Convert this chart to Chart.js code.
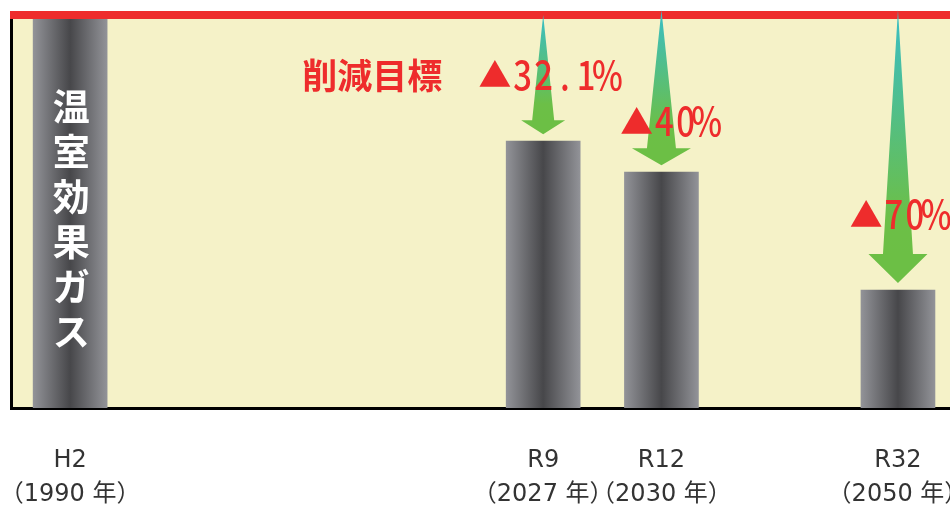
<!DOCTYPE html>
<html>
<head>
<meta charset="utf-8">
<title>温室効果ガス 削減目標</title>
<script src="https://cdn.jsdelivr.net/npm/chart.js@4.4.1/dist/chart.umd.min.js"></script>
<style>
  body { margin: 0; background: #fff; overflow: hidden; }
  #wrap { width: 950px; height: 505px; }
</style>
</head>
<body>
<div id="wrap"><canvas id="ghg"></canvas></div>

<script>
// 横軸は区分の番号（H2 と R9 の間は 3 区分あき）
var slots = [0, 4, 5, 7];
var eras = ['H2', 'R9', 'R12', 'R32'];
var years = ['（1990 年）', '（2027 年）', '（2030 年）', '（2050 年）'];
// 1990 年を 100 とした排出量
var emissions = [100, 67.9, 60, 30];
var cuts = ['', '▲32.1%', '▲40%', '▲70%'];

var RED = '#ee2c2c';
var CJK = "'Noto Sans CJK JP', sans-serif";

// 矢印の形と文字の置き場所（見た目だけ）
var arrowLook = [
  null,
  { shaft: 22, headW: 44, headH: 14, tip: 0 },
  { shaft: 29, headW: 59, headH: 17, tip: -5 },
  { shaft: 30, headW: 59, headH: 29, tip: -5 }
];
var cutSpot = [null, [4.04, 84.9], [5.06, 73.0], [7.0, 49.3]];

function barFill(c) {
  var chart = c.chart;
  if (!chart.chartArea || !c.raw) return '#6b6c70';
  var x = chart.scales.x.getPixelForValue(c.raw.x);
  var half = 37;
  var g = chart.ctx.createLinearGradient(x - half, 0, x + half, 0);
  g.addColorStop(0, '#929398');
  g.addColorStop(0.5, '#47474a');
  g.addColorStop(1, '#929398');
  return g;
}

// 半角は狭く、全角はそのままの幅で一字ずつ置く
function cellText(c, str, cx, cy, size) {
  var chars = Array.from(str);
  var w = chars.map(function (ch) { return ch.charCodeAt(0) > 0x2000 ? size * 0.85 : size * 0.53; });
  var total = w.reduce(function (a, b) { return a + b; }, 0);
  var x = cx - total / 2;
  chars.forEach(function (ch, k) {
    c.save();
    c.translate(x + w[k] / 2, cy);
    if (ch === '▲') c.scale(0.82, 0.82);
    else c.scale(0.82, 1);
    c.fillText(ch, 0, 0);
    c.restore();
    x += w[k];
  });
}

var decor = {
  id: 'decor',
  beforeDraw: function (chart) {
    var c = chart.ctx, a = chart.chartArea;
    c.save();
    c.fillStyle = '#fff';
    c.fillRect(0, 0, chart.width, chart.height);
    c.fillStyle = '#f5f2c8';
    c.fillRect(a.left, a.top, a.right - a.left, a.bottom - a.top);
    c.restore();
  },
  afterDraw: function (chart) {
    var c = chart.ctx, a = chart.chartArea;
    var xs = chart.scales.x, ys = chart.scales.y;
    var top = ys.getPixelForValue(100);
    c.save();

    // 基準年の赤線
    c.fillStyle = RED;
    c.fillRect(a.left - 1, top - 4, chart.width - a.left + 1, 8);

    // 削減の矢印
    for (var i = 1; i < slots.length; i++) {
      var s = arrowLook[i];
      var cx = xs.getPixelForValue(slots[i]);
      var tipY = top + s.tip;
      var endY = ys.getPixelForValue(emissions[i]) - 7;
      var headY = endY - s.headH;
      var g = c.createLinearGradient(0, tipY, 0, headY);
      g.addColorStop(0, '#38bec6');
      g.addColorStop(0.85, '#6cbf47');
      g.addColorStop(1, '#6cbf45');
      c.fillStyle = g;
      c.beginPath();
      c.moveTo(cx, tipY);
      c.lineTo(cx + s.shaft / 2, headY);
      c.lineTo(cx + s.headW / 2, headY);
      c.lineTo(cx, endY);
      c.lineTo(cx - s.headW / 2, headY);
      c.lineTo(cx - s.shaft / 2, headY);
      c.closePath();
      c.fill();
    }

    c.textAlign = 'center';
    c.textBaseline = 'middle';

    // 見出し
    c.fillStyle = RED;
    c.font = 'bold 35px ' + CJK;
    c.fillText('削減目標', xs.getPixelForValue(2.555), ys.getPixelForValue(84.5));

    // 削減率
    c.font = '500 40px ' + CJK;
    for (var k = 1; k < cuts.length; k++) {
      cellText(c, cuts[k], xs.getPixelForValue(cutSpot[k][0]), ys.getPixelForValue(cutSpot[k][1]), 40);
    }

    // 棒の中の縦書き
    c.fillStyle = '#fff';
    c.font = 'bold 37px ' + CJK;
    var label = Array.from('温室効果ガス');
    var vx = xs.getPixelForValue(slots[0]) + 1;
    var vy = ys.getPixelForValue(76.6);
    label.forEach(function (ch, n) { c.fillText(ch, vx, vy + n * 45); });

    c.restore();
  }
};

var ctx = document.getElementById('ghg').getContext('2d');
var chart = new Chart(ctx, {
  type: 'bar',
  data: {
    datasets: [{
      data: slots.map(function (s, i) { return { x: s, y: emissions[i] }; }),
      backgroundColor: barFill,
      barThickness: 74,
      borderWidth: 0
    }]
  },
  options: {
    responsive: true,
    maintainAspectRatio: false,
    animation: false,
    layout: { padding: { left: 3, top: 15, right: 0, bottom: 0 } },
    plugins: { legend: { display: false }, tooltip: { enabled: false } },
    scales: {
      x: {
        type: 'linear',
        min: -0.5,
        max: 7.44,
        offset: false,
        z: 1,
        grid: { display: false },
        border: { color: '#000', width: 3 },
        afterBuildTicks: function (s) { s.ticks = slots.map(function (v) { return { value: v }; }); },
        afterFit: function (s) { s.height = 97; s.paddingLeft = 0; s.paddingRight = 0; },
        ticks: {
          autoSkip: false,
          maxRotation: 0,
          padding: 28,
          color: '#333',
          font: { family: "'DejaVu Sans', 'Noto Sans CJK JP', sans-serif", size: 24, lineHeight: 34 / 24 },
          callback: function (v) {
            var i = slots.indexOf(v);
            return [eras[i], years[i]];
          }
        }
      },
      y: {
        min: 0,
        max: 100,
        z: 1,
        ticks: { display: false },
        grid: { display: false },
        border: { color: '#000', width: 3 }
      }
    }
  },
  plugins: [decor]
});
</script>
</body>
</html>
